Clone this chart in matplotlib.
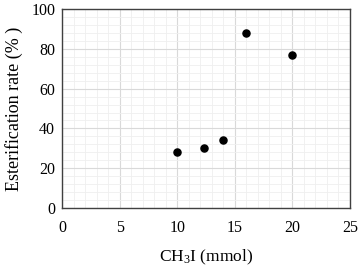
import matplotlib
matplotlib.use("Agg")
import matplotlib.pyplot as plt
from matplotlib.ticker import MultipleLocator

# CH3I amount vs esterification rate
ch3i = [10, 12.3, 14, 16, 20]
rate = [28, 30, 34, 88, 77]

plt.rcParams['font.family'] = ['Liberation Serif']
plt.rcParams['mathtext.fontset'] = 'custom'
plt.rcParams['mathtext.rm'] = 'Liberation Serif'
plt.rcParams['mathtext.it'] = 'Liberation Serif:italic'

fig = plt.figure(figsize=(3.61, 2.67), dpi=100)
ax = fig.add_axes([0.172, 0.221, 0.7975, 0.745])

ax.scatter(ch3i, rate, s=26, color='black', zorder=3)

ax.set_xlim(0, 25)
ax.set_ylim(0, 100)
ax.xaxis.set_major_locator(MultipleLocator(5))
ax.xaxis.set_minor_locator(MultipleLocator(1))
ax.yaxis.set_major_locator(MultipleLocator(20))
ax.yaxis.set_minor_locator(MultipleLocator(4))
ax.grid(which='major', color='#d9d9d9', linewidth=0.8)
ax.grid(which='minor', color='#efefef', linewidth=0.6)
ax.set_axisbelow(True)
ax.tick_params(which='both', length=0, labelsize=11.5)
ax.tick_params(axis='x', pad=9)
ax.tick_params(axis='y', pad=5)
for sp in ax.spines.values():
    sp.set_color('#404040')
    sp.set_linewidth(1.0)

ax.set_xlabel('CH$_3$I (mmol)', fontsize=12.5, labelpad=8)
ax.set_ylabel('Esterification rate (% )', fontsize=13, labelpad=6)

fig.savefig('out.png', dpi=100)
